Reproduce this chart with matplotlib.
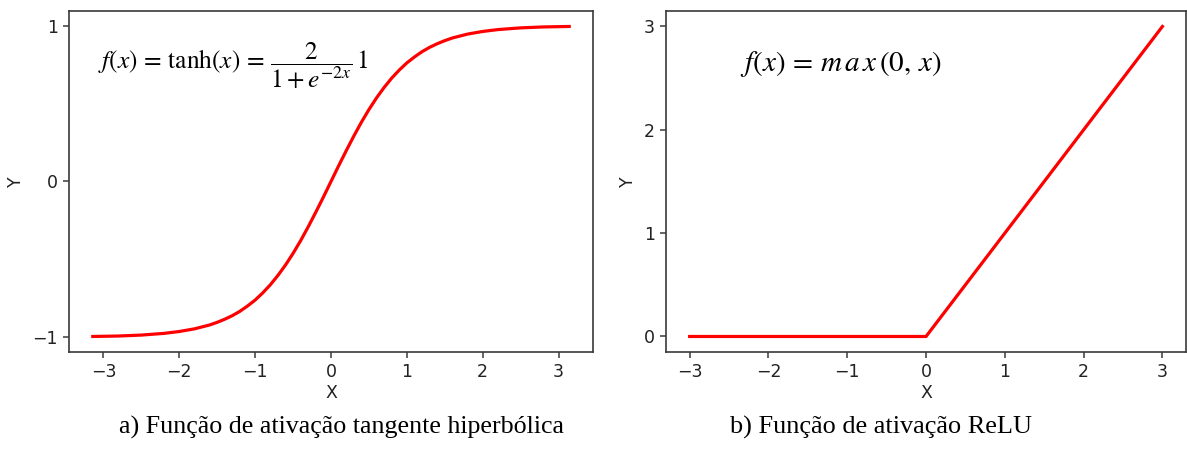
import numpy as np
import matplotlib
matplotlib.use("Agg")
import matplotlib.pyplot as plt

plt.rcParams['mathtext.fontset'] = 'stix'
plt.rcParams['font.family'] = ['DejaVu Sans']

# tanh curve, values
x_tanh = [-3.14, -2.8, -2.5, -2.2, -2.0, -1.8, -1.6, -1.5, -1.4, -1.3, -1.2, -1.1, -1.0, -0.9,
          -0.8, -0.7, -0.6, -0.5, -0.4, -0.3, -0.2, -0.1, 0.0, 0.1, 0.2, 0.3, 0.4, 0.5, 0.6,
          0.7, 0.8, 0.9, 1.0, 1.1, 1.2, 1.3, 1.4, 1.5, 1.6, 1.8, 2.0, 2.2, 2.5, 2.8, 3.14]
y_tanh = [-0.996, -0.993, -0.987, -0.976, -0.964, -0.947, -0.922, -0.905, -0.885, -0.862,
          -0.834, -0.800, -0.762, -0.716, -0.664, -0.604, -0.537, -0.462, -0.380, -0.291,
          -0.197, -0.100, 0.0, 0.100, 0.197, 0.291, 0.380, 0.462, 0.537, 0.604, 0.664,
          0.716, 0.762, 0.800, 0.834, 0.862, 0.885, 0.905, 0.922, 0.947, 0.964, 0.976,
          0.987, 0.993, 0.996]

# ReLU
x_relu = [-3, 0, 3]
y_relu = [0, 0, 3]

tanh_yticks = [-1, 0, 1]
relu_yticks = [0, 1, 2, 3]
xticks = [-3, -2, -1, 0, 1, 2, 3]

captions = ["a) Função de ativação tangente hiperbólica", "b) Função de ativação ReLU"]

fig = plt.figure(figsize=(11.87, 4.57), dpi=100)
ax1 = fig.add_axes([0.0581, 0.2298, 0.4415, 0.7462])
ax2 = fig.add_axes([0.5611, 0.2298, 0.4381, 0.7462])

spine_col = '#3a3a3a'
for ax in (ax1, ax2):
    for s in ax.spines.values():
        s.set_color(spine_col)
        s.set_linewidth(1.2)
    ax.tick_params(colors=spine_col, labelsize=12.5, labelcolor='#222222', length=4.5, width=1.1)
    ax.set_xticks(xticks)
    ax.set_xlabel('X', fontsize=12.5, color='#222222', labelpad=2)
    ax.set_ylabel('Y', fontsize=12.5, color='#222222', labelpad=5)

ax1.plot(x_tanh, y_tanh, color='red', lw=2.3)
ax1.set_yticks(tanh_yticks)
ax1.text(0.055, 0.84, r'$f(x)\,=\,\tanh(x)\,=\,\dfrac{2}{1+e^{-2x}}\,1$', transform=ax1.transAxes,
         fontsize=18.3, va='center', ha='left')

ax2.plot(x_relu, y_relu, color='red', lw=2.3)
ax2.set_yticks(relu_yticks)
ax2.text(0.142, 0.845, r'$f(x)\,=\,m\,a\,x\,(0,\,x)$', transform=ax2.transAxes,
         fontsize=21, va='center', ha='left')

fig.text(0.288, 0.065, captions[0], family='Liberation Serif', fontsize=18.7, ha='center', va='center')
fig.text(0.742, 0.065, captions[1], family='Liberation Serif', fontsize=18.9, ha='center', va='center')

fig.savefig('out.png', dpi=100)
